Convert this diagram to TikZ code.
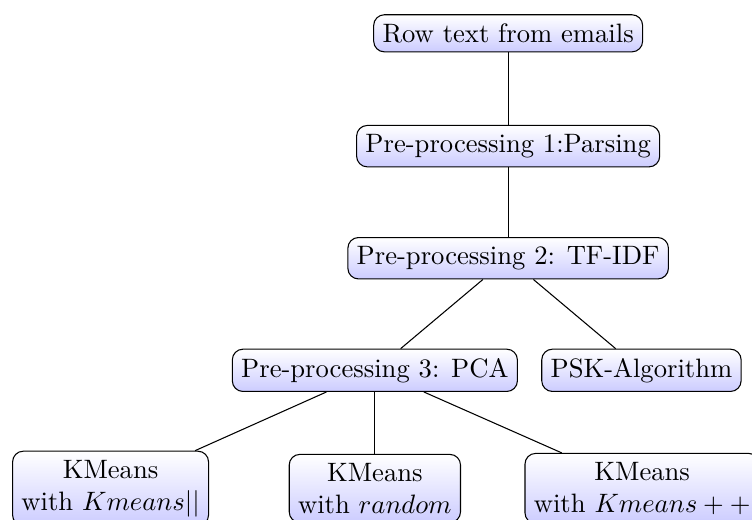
\documentclass[tikz,border=0pt]{standalone}
\usepackage{amsmath, amssymb}
\usepackage{tikz}
\usetikzlibrary{positioning}

\begin{document}
\begin{tikzpicture}[
        stufe/.style={draw, rounded corners, top color=white,
                      bottom color=blue!20, align=center},
        kante/.style={draw}
      ]
      \useasboundingbox (0,0) rectangle (9.93,-6.856);

      % Pipeline von oben nach unten
      \node[stufe] (row)  at (6.71,-0.44) {Row text from emails};
      \node[stufe] (pre1) at (6.71,-1.93) {Pre-processing 1:Parsing};
      \node[stufe] (pre2) at (6.71,-3.41) {Pre-processing 2: TF-IDF};

      \node[stufe] (pca) at (4.95,-4.89) {Pre-processing 3: PCA};
      \node[stufe] (psk) at (8.47,-4.89) {PSK-Algorithm};

      % KMeans Varianten
      \node[stufe] (km1) at (1.46,-6.45) {KMeans\\with $Kmeans||$};
      \node[stufe] (km2) at (4.95,-6.45) {KMeans\\with $random$};
      \node[stufe] (km3) at (8.48,-6.45) {KMeans\\with $Kmeans++$};

      % Kanten
      \draw[kante] (row) -- (pre1);
      \draw[kante] (pre1) -- (pre2);
      \draw[kante] (pre2) -- (pca);
      \draw[kante] (pre2) -- (psk);
      \draw[kante] (pca) -- (km1);
      \draw[kante] (pca) -- (km2);
      \draw[kante] (pca) -- (km3);
    \end{tikzpicture}
\end{document}
